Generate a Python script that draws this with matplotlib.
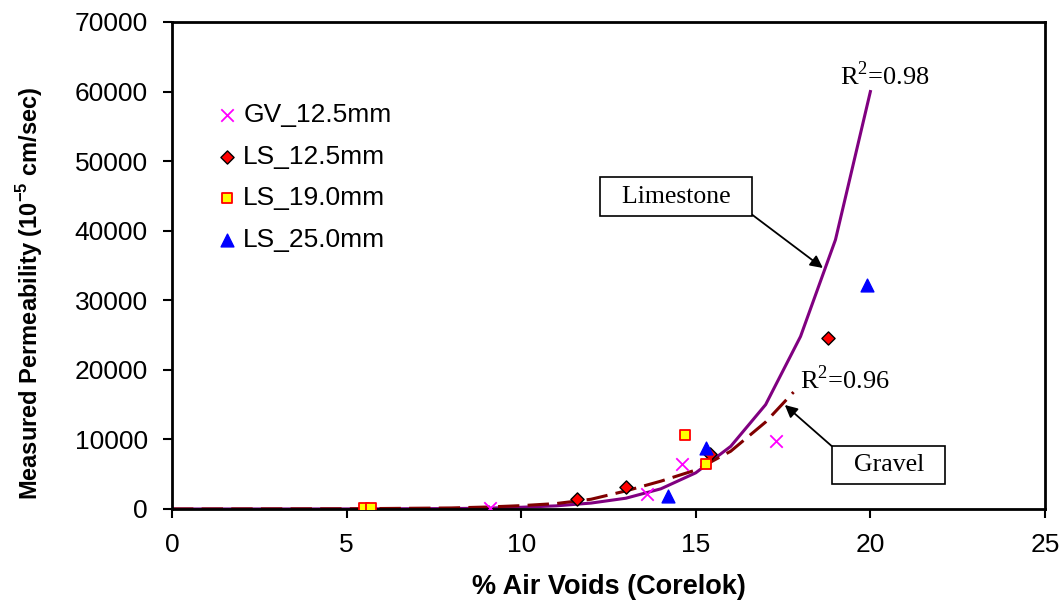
import matplotlib.pyplot as plt
import numpy as np

# scatter data
gv125_x = [9.1, 13.6, 14.6, 17.3]
gv125_y = [100, 2150, 6500, 9800]
ls125_x = [11.6, 13.0, 15.4, 18.8]
ls125_y = [1400, 3100, 7900, 24600]
ls190_x = [5.5, 5.7, 14.7, 15.3]
ls190_y = [100, 100, 10700, 6400]
ls250_x = [14.2, 15.3, 19.9]
ls250_y = [1800, 8700, 32200]

# trend lines
lime_x = [0, 5, 8, 9, 10, 11, 12, 13, 14, 15, 16, 17, 18, 19, 20]
lime_y = [0, 10, 60, 120, 250, 450, 850, 1550, 2900, 5200, 9000, 15000, 24800, 38700, 60000]
grav_x = [0, 5, 8, 9, 10, 11, 12, 13, 14, 15, 16, 17, 17.8]
grav_y = [0, 30, 150, 280, 480, 780, 1400, 2600, 4000, 5600, 8300, 12500, 16800]

plt.rcParams['font.family'] = ['Liberation Sans', 'DejaVu Sans']
plt.rcParams['mathtext.fontset'] = 'custom'
plt.rcParams['mathtext.rm'] = 'Liberation Sans'
plt.rcParams['mathtext.bf'] = 'Liberation Sans:bold'
plt.rcParams['mathtext.sf'] = 'Liberation Serif'

fig = plt.figure(figsize=(10.61, 6.01), dpi=100)
ax = fig.add_axes([0.1621, 0.1531, 0.8228, 0.8103])

ax.plot(lime_x, lime_y, color='#800080', lw=2.2, zorder=2)
ax.plot(grav_x, grav_y, color='#800000', lw=2.2, ls=(0, (7, 2.7)), zorder=2)

ax.scatter(gv125_x, gv125_y, marker='x', s=80, color='#ff00ff', lw=1.3, label='GV_12.5mm', zorder=3)
ax.scatter(ls125_x, ls125_y, marker='D', s=45, facecolor='#ff0000', edgecolor='black', lw=1, label='LS_12.5mm', zorder=3)
ax.scatter(ls190_x, ls190_y, marker='s', s=60, facecolor='#ffff00', edgecolor='#ff0000', lw=1.3, label='LS_19.0mm', zorder=3)
ax.scatter(ls250_x, ls250_y, marker='^', s=85, color='#0000ff', label='LS_25.0mm', zorder=3)

ax.set_xlim(0, 25)
ax.set_ylim(0, 70000)
ax.set_xticks(range(0, 26, 5))
ax.set_yticks(range(0, 70001, 10000))
ax.tick_params(labelsize=19, width=1.5, length=6.5, pad=11, direction='out')
for s in ax.spines.values():
    s.set_linewidth(2)

ax.set_xlabel('% Air Voids (Corelok)', fontsize=19.5, fontweight='bold', va='center')
ax.xaxis.set_label_coords(0.5, -0.16)
ax.set_ylabel('Measured Permeability (10$^{\\mathbf{-5}}$ cm/sec)', fontsize=17, fontweight='bold', va='center')
ax.yaxis.set_label_coords(-0.163, 0.443)

leg = ax.legend(loc='upper left', bbox_to_anchor=(0.051, 0.834), frameon=False, fontsize=19,
                handletextpad=0.21, labelspacing=0.67, handlelength=0.8,
                borderpad=0, borderaxespad=0)

serif = ['Liberation Serif', 'DejaVu Serif']
ax.text(20.42, 62240, 'R$^{\\mathsf{2}}$=0.98', fontsize=19, family=serif, ha='center', va='center')
ax.text(19.27, 18540, 'R$^{\\mathsf{2}}$=0.96', fontsize=19, family=serif, ha='center', va='center')

bbox = dict(boxstyle='square,pad=0.33', fc='white', ec='black', lw=1.2)
ax.annotate('  Limestone  ', xy=(18.64, 34640), xytext=(14.43, 44850), fontsize=18.5, family=serif,
            ha='center', va='center', bbox=bbox,
            arrowprops=dict(arrowstyle='-|>', color='black', lw=1.3, shrinkA=0, shrinkB=0,
                            relpos=(1, 0)))
ax.annotate('  Gravel  ', xy=(17.55, 14950), xytext=(20.53, 6320), fontsize=18.5, family=serif,
            ha='center', va='center', bbox=bbox,
            arrowprops=dict(arrowstyle='-|>', color='black', lw=1.3, shrinkA=0, shrinkB=0,
                            relpos=(0, 1)))

fig.savefig('out.png', dpi=100)
